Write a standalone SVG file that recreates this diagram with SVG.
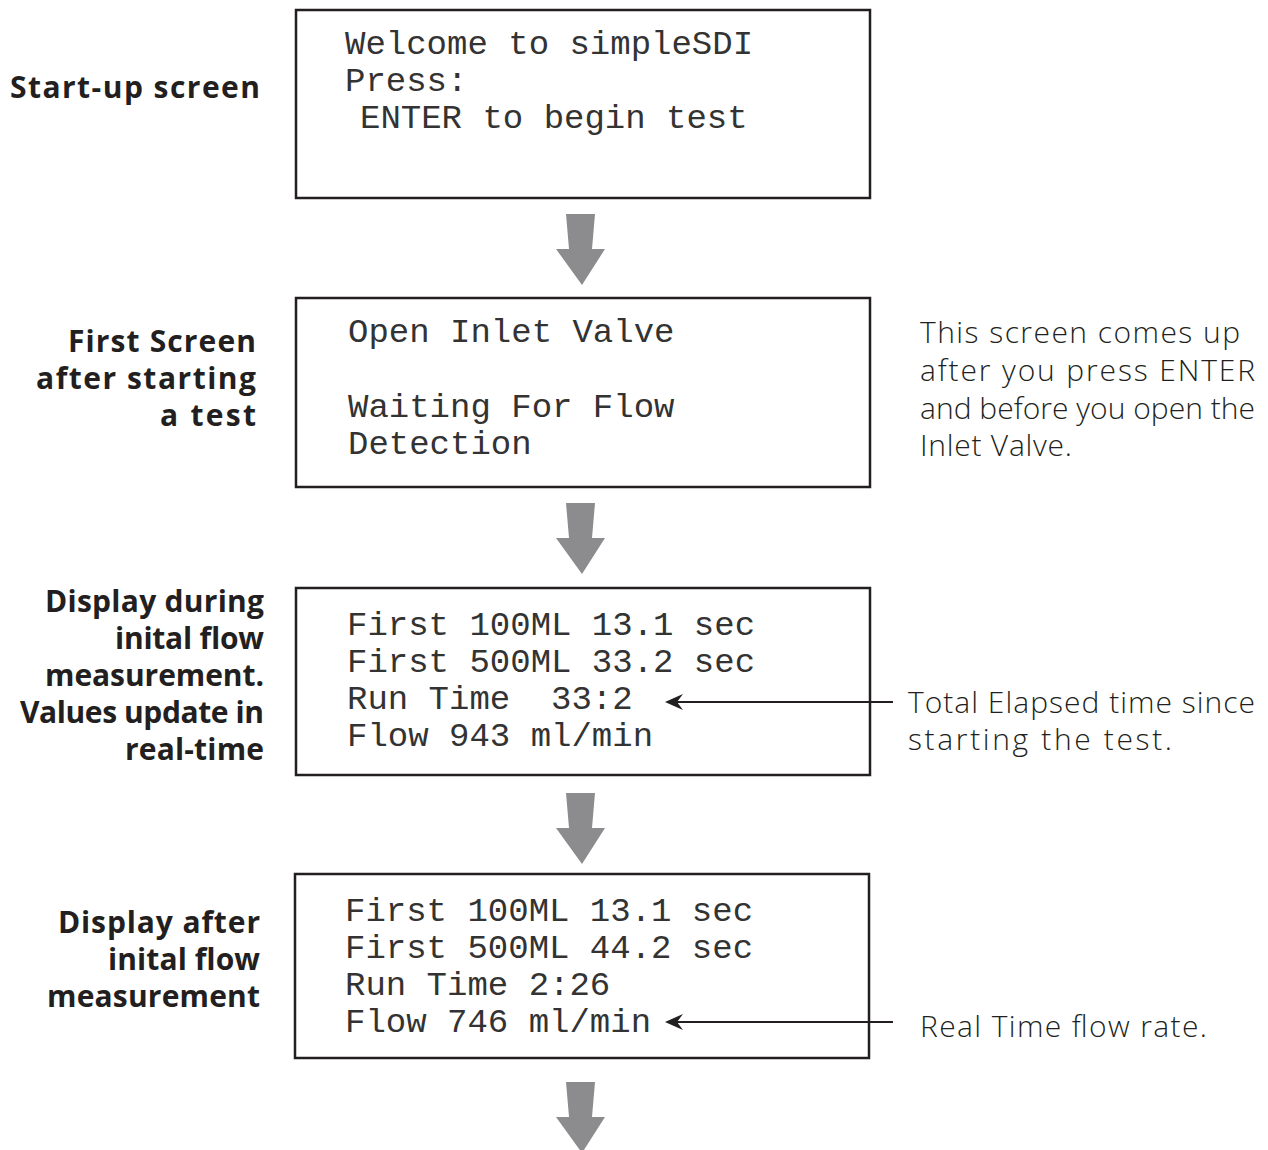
<svg xmlns="http://www.w3.org/2000/svg" width="1268" height="1150" viewBox="0 0 1268 1150">
<style>
.box{fill:#fff;stroke:#231f20;stroke-width:2.5}
.lcd{font-family:"Liberation Mono","DejaVu Sans Mono",monospace;font-size:34px;fill:#333;white-space:pre}
.lbl{font-family:"Open Sans","Noto Sans",sans-serif;font-weight:bold;font-size:30px;fill:#231f20;text-anchor:end}
.note{font-family:"Open Sans","Noto Sans",sans-serif;font-weight:300;font-size:30px;fill:#231f20}
.down{fill:#8c8c8e}
.conn{stroke:#231f20;stroke-width:2;fill:none}
.head{fill:#231f20}
</style>
<defs>
<polygon id="dn" points="-16,0 13,0 10,35 23,35 0,71 -26,35 -13,35"/>
<path id="ah" d="M0,0 L18,-8 L12,0 L18,8 Z"/>
</defs>
<rect width="1268" height="1150" fill="#fff"/>

<g id="screen1">
<rect class="box" x="296" y="10" width="574" height="188"/>
<text class="lcd" x="345" y="54">Welcome to simpleSDI</text>
<text class="lcd" x="345" y="91">Press:</text>
<text class="lcd" x="360" y="128">ENTER to begin test</text>
</g>
<g id="label1"><text class="lbl" x="260" y="98" textLength="250" lengthAdjust="spacing">Start-up screen</text></g>

<g id="screen2">
<rect class="box" x="296" y="298" width="574" height="189"/>
<text class="lcd" x="348" y="342">Open Inlet Valve</text>
<text class="lcd" x="348" y="417">Waiting For Flow</text>
<text class="lcd" x="348" y="454">Detection</text>
</g>
<g id="label2">
<text class="lbl" x="256" y="352" textLength="188" lengthAdjust="spacing">First Screen</text>
<text class="lbl" x="256" y="389" textLength="220" lengthAdjust="spacing">after starting</text>
<text class="lbl" x="256" y="426" textLength="96" lengthAdjust="spacing">a test</text>
</g>
<g id="note2">
<text class="note" x="920" y="343" textLength="320" lengthAdjust="spacing">This screen comes up</text>
<text class="note" x="920" y="381" textLength="335" lengthAdjust="spacing">after you press ENTER</text>
<text class="note" x="920" y="419" textLength="335" lengthAdjust="spacing">and before you open the</text>
<text class="note" x="920" y="456" textLength="152" lengthAdjust="spacing">Inlet Valve.</text>
</g>

<g id="screen3">
<rect class="box" x="296" y="588" width="574" height="187"/>
<text class="lcd" x="347" y="635">First 100ML 13.1 sec</text>
<text class="lcd" x="347" y="672">First 500ML 33.2 sec</text>
<text class="lcd" x="347" y="709">Run Time  33:2</text>
<text class="lcd" x="347" y="746">Flow 943 ml/min</text>
</g>
<g id="label3">
<text class="lbl" x="264" y="612" textLength="219" lengthAdjust="spacing">Display during</text>
<text class="lbl" x="264" y="649" textLength="149" lengthAdjust="spacing">inital flow</text>
<text class="lbl" x="264" y="686" textLength="219" lengthAdjust="spacing">measurement.</text>
<text class="lbl" x="264" y="723" textLength="244" lengthAdjust="spacing">Values update in</text>
<text class="lbl" x="264" y="760" textLength="139" lengthAdjust="spacing">real-time</text>
</g>
<g id="note3">
<text class="note" x="908" y="713" textLength="347" lengthAdjust="spacing">Total Elapsed time since</text>
<text class="note" x="908" y="750" textLength="264" lengthAdjust="spacing">starting the test.</text>
</g>

<g id="screen4">
<rect class="box" x="295" y="874" width="574" height="184"/>
<text class="lcd" x="345" y="921">First 100ML 13.1 sec</text>
<text class="lcd" x="345" y="958">First 500ML 44.2 sec</text>
<text class="lcd" x="345" y="995">Run Time 2:26</text>
<text class="lcd" x="345" y="1032">Flow 746 ml/min</text>
</g>
<g id="label4">
<text class="lbl" x="260" y="933" textLength="202" lengthAdjust="spacing">Display after</text>
<text class="lbl" x="260" y="970" textLength="152" lengthAdjust="spacing">inital flow</text>
<text class="lbl" x="260" y="1007" textLength="213" lengthAdjust="spacing">measurement</text>
</g>
<g id="note4"><text class="note" x="920" y="1037" textLength="287" lengthAdjust="spacing">Real Time flow rate.</text></g>

<g id="connectors">
<use href="#dn" class="down" x="582" y="214"/>
<use href="#dn" class="down" x="582" y="503"/>
<use href="#dn" class="down" x="582" y="793"/>
<use href="#dn" class="down" x="582" y="1082"/>
<line class="conn" x1="893" y1="702" x2="676" y2="702"/>
<use href="#ah" class="head" x="665" y="702"/>
<line class="conn" x1="893" y1="1022" x2="676" y2="1022"/>
<use href="#ah" class="head" x="665" y="1022"/>
</g>
</svg>
